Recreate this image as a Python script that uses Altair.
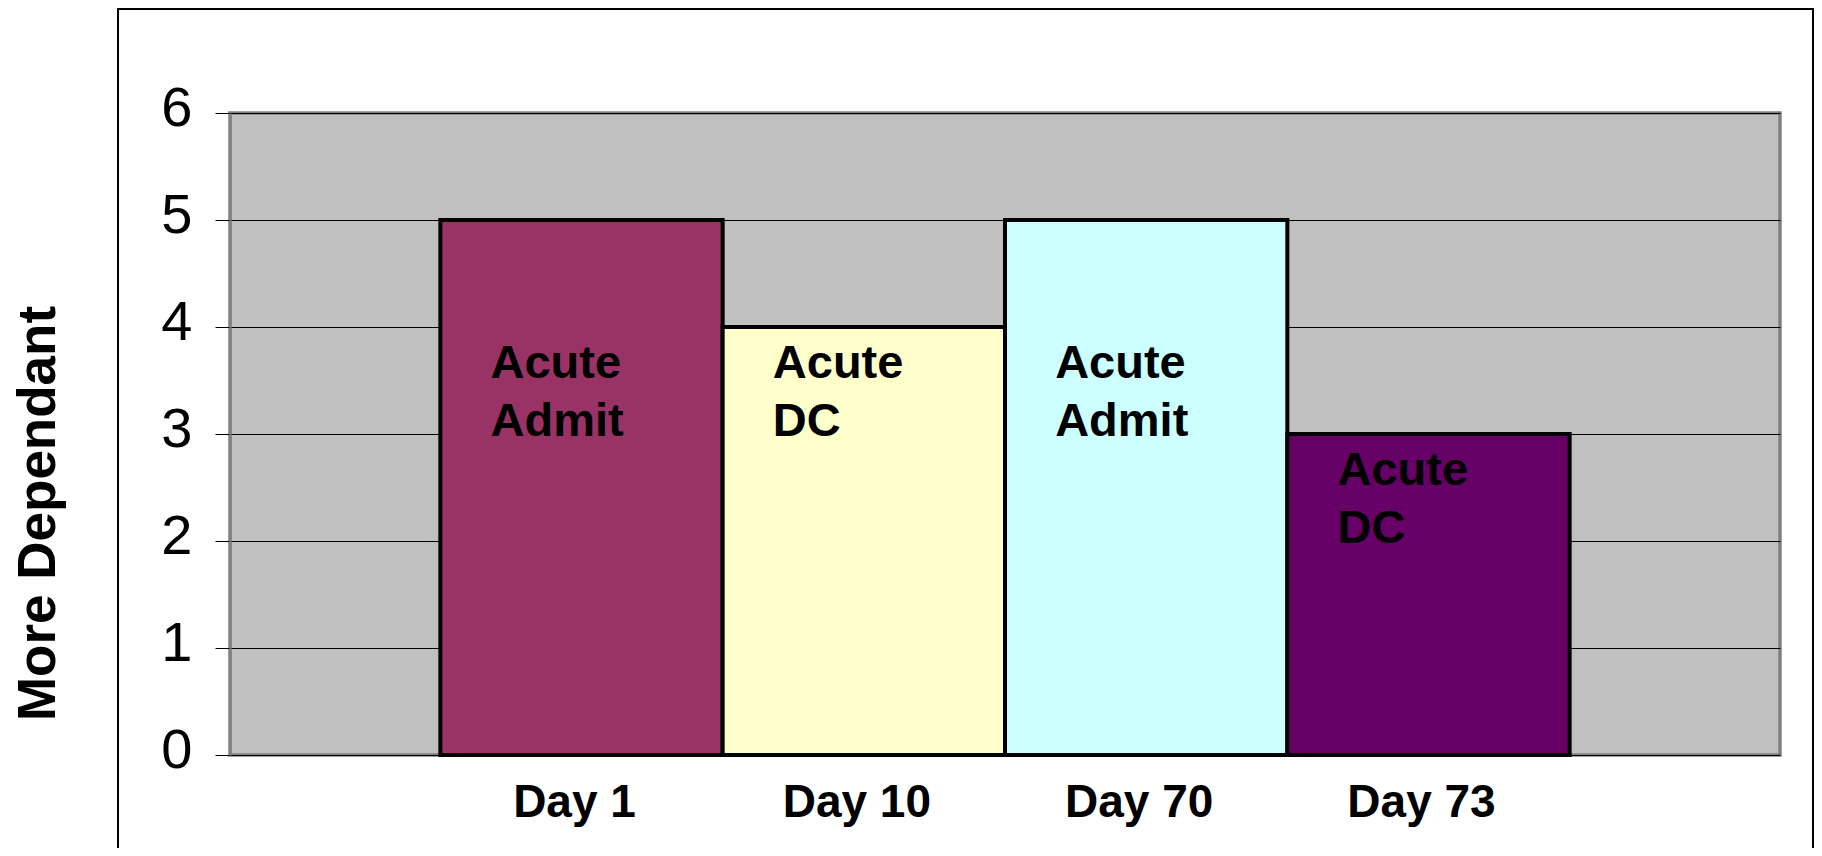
import altair as alt
import pandas as pd

days = ["Day 1", "Day 10", "Day 70", "Day 73"]
values = [5, 4, 5, 3]
bar_colors = ["#993366", "#FFFFCC", "#CCFFFF", "#660066"]
labels = ["Acute\nAdmit", "Acute\nDC", "Acute\nAdmit", "Acute\nDC"]
label_y = [3.5, 3.5, 3.5, 2.5]
y_ticks = [0, 1, 2, 3, 4, 5, 6]

df = pd.DataFrame({"day": days, "value": values, "label": labels, "label_y": label_y})

W, H = 1550, 642
FONT = "Liberation Sans"

xscale = alt.Scale(domain=days, paddingInner=0, paddingOuter=0.745)
yscale = alt.Scale(domain=[0, 6], nice=False)

x_axis = alt.Axis(title=None, ticks=False, domain=False, labelAngle=0,
                  labelFont=FONT, labelFontSize=46, labelFontWeight="bold",
                  labelColor="black", labelPadding=25, labelOffset=-7)
y_axis = alt.Axis(values=y_ticks, format="d", title="More Dependant", grid=True,
                  gridColor="black", gridWidth=1, gridOpacity=1,
                  tickSize=15, tickColor="black", tickWidth=1,
                  domainColor="#808080", domainWidth=2,
                  labelFont="Liberation Sans Narrow, Liberation Sans",
                  labelFontSize=56, labelColor="black", labelPadding=23,
                  labelOffset=-5,
                  titleFont=FONT, titleFontSize=53, titleFontWeight="bold",
                  titleColor="black", titleAngle=270, titleAlign="center",
                  titleBaseline="middle", titleX=-192, titleY=400)

frame = alt.Chart(df).mark_rect(fill=None, stroke="black", strokeWidth=1.5).encode(
    x=alt.value(-112), x2=alt.value(1583), y=alt.value(-104), y2=alt.value(760)
)

bars = alt.Chart(df).mark_bar(stroke="black", strokeWidth=4).encode(
    x=alt.X("day:N", scale=xscale, sort=days, axis=x_axis),
    y=alt.Y("value:Q", scale=yscale, axis=y_axis, title="More Dependant"),
    color=alt.Color("day:N", scale=alt.Scale(domain=days, range=bar_colors), legend=None),
)

text = alt.Chart(df).mark_text(
    align="left", baseline="alphabetic", dx=-91, dy=-3, lineBreak="\n", lineHeight=58,
    font=FONT, fontSize=47, fontWeight="bold", color="black"
).encode(
    x=alt.X("day:N", scale=xscale, sort=days, axis=x_axis),
    y=alt.Y("label_y:Q", scale=yscale, axis=y_axis, title="More Dependant"),
    text="label:N",
)

chart = alt.layer(frame, bars, text).properties(
    width=W, height=H,
    background="white",
    autosize=alt.AutoSizeParams(type="none"),
    padding={"left": 222, "top": 105, "right": 34, "bottom": 93},
).configure_view(
    fill="#C0C0C0", stroke="#808080", strokeWidth=3.5
)

chart.save("out.html", embed_options={"renderer": "svg", "actions": False})
